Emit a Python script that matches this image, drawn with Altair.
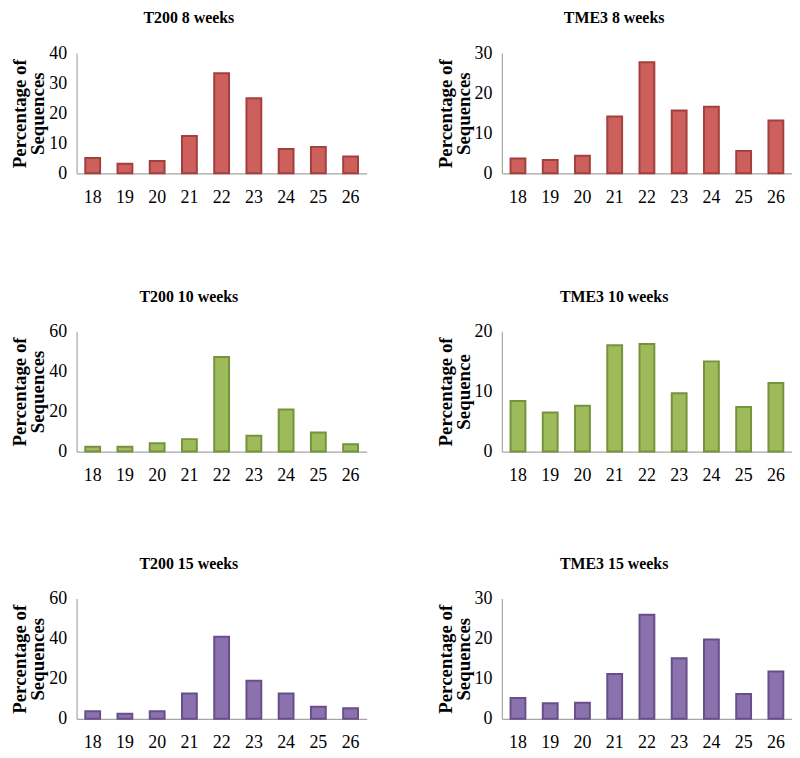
import altair as alt
import pandas as pd

lengths = [18, 19, 20, 21, 22, 23, 24, 25, 26]

t200_8 = [5.1, 3.2, 4.1, 12.4, 33.3, 25.0, 8.1, 8.8, 5.6]
tme3_8 = [3.7, 3.3, 4.4, 14.2, 27.7, 15.7, 16.6, 5.6, 13.2]
t200_10 = [2.4, 2.4, 4.1, 6.2, 47.2, 7.9, 21.0, 9.5, 3.7]
tme3_10 = [8.4, 6.5, 7.6, 17.7, 17.9, 9.7, 15.0, 7.4, 11.4]
t200_15 = [3.8, 2.6, 3.8, 12.7, 41.0, 19.0, 12.7, 6.0, 5.3]
tme3_15 = [5.2, 3.9, 4.0, 11.2, 26.0, 15.1, 19.8, 6.2, 11.8]

titles = ["T200 8 weeks", "TME3 8 weeks", "T200 10 weeks",
          "TME3 10 weeks", "T200 15 weeks", "TME3 15 weeks"]
ymax = [40, 30, 60, 20, 60, 30]
ystep = [10, 10, 20, 10, 20, 10]
ytitles = [["Percentage of", "Sequences"], ["Percentage of", "Sequences"],
           ["Percentage of", "Sequences"], ["Percentage of", "Sequence"],
           ["Percentage of", "Sequences"], ["Percentage of", "Sequences"]]

fills = {"red": "#CD5F5C", "green": "#9DBB5B", "purple": "#8B72AE"}
strokes = {"red": "#A2403D", "green": "#76923C", "purple": "#67508A"}

FONT = "Liberation Serif, Times New Roman, DejaVu Serif, serif"
W, H = 292, 121


def panel(vals, title, top, step, color, ytitle):
    df = pd.DataFrame({"len": lengths, "pct": vals})
    return alt.Chart(df, view=alt.ViewBackground(strokeWidth=0, stroke="transparent")).mark_bar(
        fill=fills[color], stroke=strokes[color], strokeWidth=2
    ).encode(
        x=alt.X("len:O", title=None,
                scale=alt.Scale(paddingInner=0.54, paddingOuter=0.27),
                axis=alt.Axis(labelAngle=0, ticks=False, labelPadding=15,
                              labelFontSize=18, labelFont=FONT, labelColor="#000",
                              domainColor="#A6A6A6", domainWidth=1.2)),
        y=alt.Y("pct:Q", title=ytitle,
                scale=alt.Scale(domain=[0, top], nice=False),
                axis=alt.Axis(values=list(range(0, top + 1, step)), grid=False,
                              ticks=False, labelPadding=10, labelFontSize=18,
                              labelFont=FONT, labelColor="#000",
                              domainColor="#A6A6A6", domainWidth=1.2,
                              titleFont=FONT, titleFontSize=19, titleFontWeight="bold",
                              titleColor="#000", titlePadding=1, titleLineHeight=18)),
    ).properties(
        width=W, height=H,
        title=alt.TitleParams(title, font=FONT, fontSize=16, fontWeight="bold",
                              color="#000", frame="bounds", anchor="middle", offset=18),
    )


p = [
    panel(t200_8, titles[0], ymax[0], ystep[0], "red", ytitles[0]),
    panel(tme3_8, titles[1], ymax[1], ystep[1], "red", ytitles[1]),
    panel(t200_10, titles[2], ymax[2], ystep[2], "green", ytitles[2]),
    panel(tme3_10, titles[3], ymax[3], ystep[3], "green", ytitles[3]),
    panel(t200_15, titles[4], ymax[4], ystep[4], "purple", ytitles[4]),
    panel(tme3_15, titles[5], ymax[5], ystep[5], "purple", ytitles[5]),
]

row1 = alt.hconcat(p[0], p[1], spacing=70)
row2 = alt.hconcat(p[2], p[3], spacing=70)
row3 = alt.hconcat(p[4], p[5], spacing=70)

chart = alt.vconcat(row1, alt.vconcat(row2, row3, spacing=72), spacing=83).properties(
    padding={"left": 3, "top": 0, "right": 0, "bottom": 0}
).configure_view(strokeWidth=0, stroke="transparent").configure(background="white")

chart.save("out.html", embed_options={"renderer": "svg", "actions": False})
